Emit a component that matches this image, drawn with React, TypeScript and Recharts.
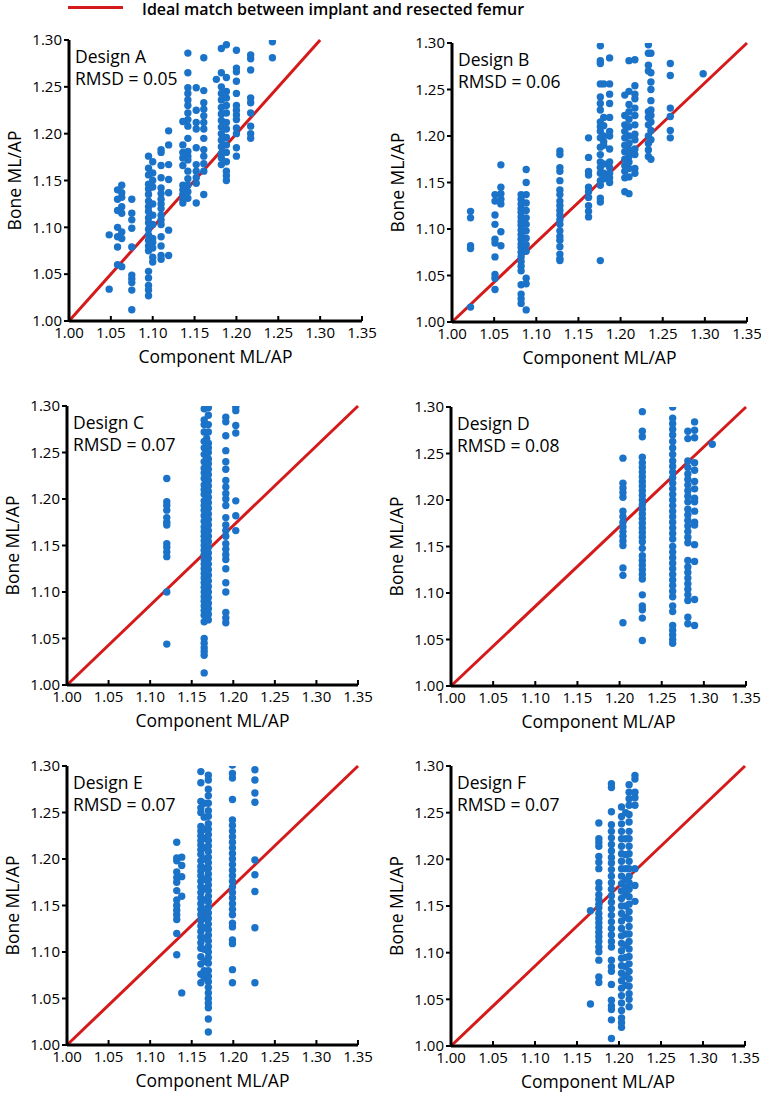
import React from 'react';
import { ScatterChart, Scatter, XAxis, YAxis, ReferenceLine } from 'recharts';

// [component ML/AP, bone ML/AP values at that component size]
type Column = [number, number[]];

const X_TICKS = [1.0, 1.05, 1.1, 1.15, 1.2, 1.25, 1.3, 1.35];
const Y_TICKS = [1.0, 1.05, 1.1, 1.15, 1.2, 1.25, 1.3];

const DESIGN_NAMES = ['Design A', 'Design B', 'Design C', 'Design D', 'Design E', 'Design F'];
const RMSD_VALUES = ['0.05', '0.06', '0.07', '0.08', '0.07', '0.07'];
// end of the red "ideal" line as drawn in each panel (starts at 1.00, 1.00)
const IDEAL_END_X = [1.3, 1.35, 1.35, 1.35, 1.35, 1.35];
const IDEAL_END_Y = [1.3, 1.3, 1.3, 1.3, 1.3, 1.3];

const designA: Column[] = [
  [1.048, [1.092, 1.034]],
  [1.058, [1.14, 1.13, 1.118, 1.1, 1.09, 1.079, 1.06]],
  [1.063, [1.145, 1.137, 1.132, 1.122, 1.115, 1.095, 1.088, 1.058]],
  [1.075, [1.13, 1.115, 1.108, 1.099, 1.079, 1.049, 1.045, 1.041, 1.033, 1.012]],
  [1.095, [1.176, 1.163, 1.156, 1.146, 1.141, 1.135, 1.128, 1.122, 1.117, 1.11, 1.105, 1.098, 1.092, 1.086, 1.08, 1.075, 1.053, 1.046, 1.038, 1.033, 1.027]],
  [1.1, [1.17, 1.158, 1.15, 1.143, 1.125, 1.113, 1.103, 1.088, 1.084, 1.078, 1.068, 1.063]],
  [1.11, [1.183, 1.18, 1.166, 1.153, 1.142, 1.136, 1.13, 1.125, 1.12, 1.113, 1.108, 1.103, 1.09, 1.08, 1.07, 1.066]],
  [1.119, [1.203, 1.188, 1.167, 1.151, 1.137, 1.097, 1.07]],
  [1.136, [1.213, 1.188, 1.18, 1.174, 1.166, 1.145, 1.14, 1.135, 1.13, 1.126]],
  [1.142, [1.286, 1.265, 1.249, 1.243, 1.236, 1.23, 1.222, 1.215, 1.208, 1.195, 1.181, 1.176, 1.172, 1.16, 1.152, 1.145, 1.138, 1.131]],
  [1.152, [1.249, 1.225, 1.212, 1.205, 1.185, 1.167, 1.16, 1.153, 1.147, 1.126]],
  [1.161, [1.281, 1.246, 1.233, 1.226, 1.219, 1.212, 1.205, 1.195, 1.183, 1.176, 1.168, 1.16, 1.135]],
  [1.176, [1.258]],
  [1.182, [1.291, 1.265, 1.25, 1.243, 1.236, 1.228, 1.221, 1.214, 1.207, 1.2, 1.193, 1.186, 1.179, 1.174, 1.167]],
  [1.188, [1.295, 1.26, 1.245, 1.238, 1.23, 1.222, 1.212, 1.205, 1.196, 1.188, 1.18, 1.17, 1.16, 1.155, 1.15]],
  [1.2, [1.289, 1.27, 1.266, 1.256, 1.243, 1.23, 1.225, 1.22, 1.215, 1.206, 1.2, 1.185, 1.176]],
  [1.217, [1.284, 1.28, 1.268, 1.238, 1.233, 1.222, 1.208, 1.2, 1.195]],
  [1.243, [1.298, 1.281]],
];

const designB: Column[] = [
  [1.022, [1.119, 1.112, 1.082, 1.079, 1.016]],
  [1.051, [1.137, 1.13, 1.115, 1.105, 1.089, 1.085, 1.07, 1.051, 1.047, 1.035]],
  [1.058, [1.169, 1.145, 1.138, 1.132, 1.127, 1.097, 1.082]],
  [1.082, [1.137, 1.132, 1.127, 1.122, 1.118, 1.113, 1.108, 1.104, 1.099, 1.094, 1.089, 1.084, 1.08, 1.075, 1.07, 1.065, 1.06, 1.055, 1.04, 1.03, 1.025, 1.02]],
  [1.088, [1.164, 1.15, 1.137, 1.128, 1.12, 1.112, 1.105, 1.098, 1.09, 1.083, 1.076, 1.047, 1.041, 1.013]],
  [1.128, [1.184, 1.18, 1.166, 1.162, 1.152, 1.142, 1.137, 1.13, 1.125, 1.12, 1.115, 1.11, 1.105, 1.098, 1.092, 1.088, 1.081, 1.073, 1.068, 1.066]],
  [1.162, [1.198, 1.177, 1.162, 1.158, 1.145, 1.14, 1.134, 1.125, 1.119, 1.113]],
  [1.176, [1.297, 1.281, 1.278, 1.256, 1.242, 1.235, 1.228, 1.215, 1.21, 1.205, 1.198, 1.188, 1.18, 1.172, 1.166, 1.16, 1.152, 1.147, 1.133, 1.129, 1.066]],
  [1.18, [1.256, 1.22, 1.211, 1.2, 1.194, 1.19, 1.17, 1.16, 1.154]],
  [1.187, [1.284, 1.256, 1.245, 1.235, 1.22, 1.205, 1.2, 1.186, 1.172, 1.166, 1.16, 1.155, 1.15]],
  [1.205, [1.244, 1.222, 1.212, 1.205, 1.198, 1.19, 1.183, 1.175, 1.168, 1.162, 1.155, 1.14]],
  [1.21, [1.281, 1.248, 1.234, 1.226, 1.218, 1.21, 1.2, 1.192, 1.185, 1.178, 1.172, 1.165, 1.156, 1.138]],
  [1.217, [1.282, 1.254, 1.245, 1.24, 1.23, 1.222, 1.212, 1.202, 1.196, 1.186, 1.18, 1.165, 1.16]],
  [1.233, [1.298, 1.289, 1.276, 1.27, 1.226, 1.22, 1.212, 1.2, 1.192, 1.185, 1.178]],
  [1.236, [1.289, 1.268, 1.258, 1.25, 1.238, 1.228, 1.222, 1.215, 1.206, 1.196, 1.175]],
  [1.259, [1.278, 1.265, 1.23, 1.221, 1.206, 1.198]],
  [1.298, [1.267]],
];

const designC: Column[] = [
  [1.12, [1.222, 1.197, 1.193, 1.188, 1.18, 1.175, 1.172, 1.152, 1.148, 1.143, 1.138, 1.1, 1.044]],
  [1.165, [1.297, 1.285, 1.28, 1.272, 1.262, 1.255, 1.248, 1.24, 1.233, 1.228, 1.222, 1.215, 1.21, 1.205, 1.198, 1.193, 1.188, 1.182, 1.176, 1.17, 1.165, 1.16, 1.155, 1.15, 1.145, 1.14, 1.135, 1.13, 1.125, 1.12, 1.115, 1.11, 1.105, 1.1, 1.095, 1.09, 1.085, 1.08, 1.075, 1.068, 1.05, 1.045, 1.04, 1.036, 1.032, 1.013]],
  [1.168, [1.265, 1.245, 1.225, 1.205, 1.185, 1.163, 1.143, 1.122, 1.102, 1.082]],
  [1.17, [1.298, 1.29, 1.28, 1.272, 1.26, 1.255, 1.25, 1.243, 1.238, 1.232, 1.226, 1.22, 1.214, 1.208, 1.202, 1.196, 1.19, 1.184, 1.178, 1.172, 1.166, 1.16, 1.154, 1.148, 1.142, 1.136, 1.13, 1.124, 1.118, 1.112, 1.106, 1.1, 1.094, 1.088, 1.082, 1.076, 1.07]],
  [1.191, [1.288, 1.283, 1.268, 1.252, 1.24, 1.232, 1.22, 1.213, 1.206, 1.2, 1.193, 1.18, 1.172, 1.166, 1.16, 1.152, 1.146, 1.14, 1.135, 1.125, 1.11, 1.1, 1.078, 1.072, 1.067]],
  [1.203, [1.299, 1.295, 1.279, 1.271, 1.198, 1.182, 1.166]],
];

const designD: Column[] = [
  [1.204, [1.245, 1.218, 1.213, 1.208, 1.203, 1.188, 1.182, 1.176, 1.171, 1.166, 1.161, 1.156, 1.151, 1.127, 1.119, 1.068]],
  [1.227, [1.295, 1.274, 1.268, 1.246, 1.24, 1.235, 1.23, 1.225, 1.22, 1.215, 1.21, 1.205, 1.2, 1.195, 1.19, 1.185, 1.18, 1.175, 1.17, 1.165, 1.16, 1.155, 1.148, 1.14, 1.135, 1.13, 1.125, 1.12, 1.115, 1.098, 1.086, 1.082, 1.073, 1.049]],
  [1.263, [1.3, 1.288, 1.282, 1.276, 1.27, 1.263, 1.256, 1.249, 1.242, 1.236, 1.23, 1.224, 1.218, 1.212, 1.206, 1.2, 1.194, 1.188, 1.182, 1.176, 1.17, 1.164, 1.158, 1.15, 1.144, 1.138, 1.132, 1.126, 1.12, 1.114, 1.108, 1.102, 1.096, 1.086, 1.08, 1.065, 1.06, 1.055, 1.05, 1.046]],
  [1.281, [1.274, 1.266, 1.242, 1.235, 1.228, 1.222, 1.216, 1.21, 1.204, 1.198, 1.19, 1.184, 1.178, 1.172, 1.166, 1.16, 1.154, 1.135, 1.128, 1.122, 1.116, 1.11, 1.104, 1.098, 1.092, 1.074, 1.067]],
  [1.289, [1.284, 1.275, 1.267, 1.24, 1.232, 1.22, 1.212, 1.202, 1.198, 1.188, 1.176, 1.173, 1.152, 1.134, 1.093, 1.065]],
  [1.31, [1.26]],
];

const designE: Column[] = [
  [1.132, [1.218, 1.201, 1.198, 1.186, 1.18, 1.175, 1.166, 1.156, 1.15, 1.145, 1.14, 1.135, 1.12, 1.097]],
  [1.138, [1.202, 1.193, 1.181, 1.16, 1.056]],
  [1.161, [1.294, 1.282, 1.262, 1.255, 1.25, 1.235, 1.23, 1.225, 1.22, 1.215, 1.21, 1.205, 1.198, 1.192, 1.187, 1.182, 1.176, 1.17, 1.164, 1.158, 1.152, 1.146, 1.14, 1.134, 1.128, 1.122, 1.116, 1.11, 1.104, 1.095, 1.087, 1.076, 1.067]],
  [1.165, [1.26, 1.245, 1.232, 1.222, 1.212, 1.2, 1.19, 1.178, 1.168, 1.156, 1.146, 1.136, 1.126, 1.115, 1.103, 1.09, 1.08, 1.072]],
  [1.17, [1.29, 1.285, 1.275, 1.268, 1.26, 1.252, 1.246, 1.238, 1.232, 1.226, 1.22, 1.214, 1.208, 1.202, 1.196, 1.19, 1.184, 1.178, 1.172, 1.166, 1.16, 1.154, 1.148, 1.142, 1.136, 1.13, 1.124, 1.118, 1.112, 1.106, 1.1, 1.094, 1.088, 1.08, 1.074, 1.068, 1.062, 1.056, 1.05, 1.045, 1.04, 1.028, 1.014]],
  [1.199, [1.301, 1.292, 1.287, 1.264, 1.242, 1.236, 1.23, 1.224, 1.218, 1.212, 1.206, 1.2, 1.194, 1.188, 1.182, 1.176, 1.17, 1.164, 1.158, 1.152, 1.146, 1.14, 1.131, 1.127, 1.113, 1.109, 1.081, 1.067]],
  [1.226, [1.296, 1.285, 1.271, 1.261, 1.199, 1.183, 1.165, 1.126, 1.067]],
];

const designF: Column[] = [
  [1.166, [1.145, 1.045]],
  [1.176, [1.239, 1.222, 1.218, 1.214, 1.203, 1.197, 1.19, 1.175, 1.169, 1.162, 1.157, 1.152, 1.148, 1.142, 1.137, 1.132, 1.127, 1.122, 1.117, 1.112, 1.106, 1.101, 1.092, 1.074, 1.068]],
  [1.191, [1.281, 1.277, 1.251, 1.237, 1.23, 1.223, 1.216, 1.209, 1.202, 1.196, 1.189, 1.182, 1.175, 1.168, 1.161, 1.154, 1.147, 1.14, 1.133, 1.126, 1.119, 1.112, 1.106, 1.092, 1.085, 1.08, 1.066, 1.049, 1.043, 1.039, 1.028, 1.008]],
  [1.203, [1.256, 1.246, 1.238, 1.23, 1.222, 1.214, 1.206, 1.198, 1.19, 1.182, 1.174, 1.166, 1.158, 1.15, 1.142, 1.134, 1.126, 1.118, 1.11, 1.102, 1.094, 1.086, 1.078, 1.07, 1.062, 1.054, 1.046, 1.038, 1.03, 1.025, 1.02]],
  [1.208, [1.25, 1.222, 1.205, 1.19, 1.178, 1.17, 1.162, 1.15, 1.138, 1.12, 1.108, 1.095, 1.085, 1.075, 1.065]],
  [1.212, [1.28, 1.272, 1.265, 1.258, 1.248, 1.24, 1.23, 1.222, 1.214, 1.206, 1.198, 1.19, 1.182, 1.175, 1.168, 1.16, 1.152, 1.144, 1.136, 1.128, 1.12, 1.112, 1.104, 1.096, 1.088, 1.08, 1.072, 1.064, 1.056, 1.05, 1.042]],
  [1.219, [1.29, 1.286, 1.272, 1.266, 1.258, 1.19, 1.172, 1.155]],
];

const DESIGNS = [designA, designB, designC, designD, designE, designF];

// plot-area boxes on the page (left, top, width, height)
const BOXES = [
  { left: 69, top: 40, w: 293, h: 281 },
  { left: 452, top: 43, w: 295, h: 279 },
  { left: 67, top: 406, w: 291, h: 279 },
  { left: 451, top: 407, w: 295, h: 279 },
  { left: 67, top: 766, w: 291, h: 279 },
  { left: 451, top: 766, w: 294, h: 280 },
];

const FONT = '"Open Sans", sans-serif';
const BLUE = '#1a73c8';
const RED = '#d41a1a';
const YW = 69;
const MT = 20;
const MR = 16;
const XH = 60;

const fmt = (v: number) => v.toFixed(2);

const Dot = (props: any) => <circle cx={props.cx} cy={props.cy} r={3.7} fill={BLUE} />;

const Panel = ({ index }: { index: number }) => {
  const box = BOXES[index];
  const points = DESIGNS[index].flatMap(([x, ys]) => ys.map((y) => ({ x, y })));

  return (
    <div style={{ position: 'absolute', left: box.left - YW, top: box.top - MT }}>
      <ScatterChart
        width={box.w + YW + MR}
        height={box.h + MT + XH}
        margin={{ top: MT, right: MR, bottom: 0, left: 0 }}
      >
        <XAxis
          type="number"
          dataKey="x"
          domain={[1, 1.35]}
          ticks={X_TICKS}
          tickFormatter={fmt}
          allowDataOverflow
          height={XH}
          axisLine={{ stroke: '#000', strokeWidth: 3 }}
          tickLine={{ stroke: '#000', strokeWidth: 2 }}
          tickSize={-5}
          tickMargin={11}
          tick={{ fill: '#000', fontSize: 15, fontFamily: FONT }}
          label={{
            value: 'Component ML/AP',
            position: 'insideBottom',
            offset: 18,
            fill: '#000',
            fontSize: 17.5,
            fontFamily: FONT,
          }}
        />
        <YAxis
          type="number"
          dataKey="y"
          domain={[1, 1.3]}
          ticks={Y_TICKS}
          tickFormatter={fmt}
          allowDataOverflow
          width={YW}
          axisLine={{ stroke: '#000', strokeWidth: 3 }}
          tickLine={{ stroke: '#000', strokeWidth: 2 }}
          tickSize={5}
          tickMargin={2}
          tick={{ fill: '#000', fontSize: 15, fontFamily: FONT }}
          label={{
            value: 'Bone ML/AP',
            angle: -90,
            position: 'insideLeft',
            offset: 15,
            fill: '#000',
            fontSize: 17.5,
            fontFamily: FONT,
            style: { textAnchor: 'middle' },
          }}
        />
        <Scatter data={points} shape={Dot} isAnimationActive={false} />
        <ReferenceLine
          segment={[
            { x: 1, y: 1 },
            { x: IDEAL_END_X[index], y: IDEAL_END_Y[index] },
          ]}
          stroke={RED}
          strokeWidth={3}
        />
      </ScatterChart>
      <div
        style={{
          position: 'absolute',
          left: YW + 6,
          top: MT + 5,
          fontFamily: FONT,
          fontSize: 17.5,
          lineHeight: '22px',
          color: '#000',
          whiteSpace: 'nowrap',
        }}
      >
        <div>{DESIGN_NAMES[index]}</div>
        <div>RMSD = {RMSD_VALUES[index]}</div>
      </div>
    </div>
  );
};

export default function App() {
  return (
    <div style={{ position: 'absolute', left: 0, top: 0, width: 761, height: 1097, background: '#fff' }}>
      <div style={{ position: 'absolute', left: 68, top: 6, width: 55, height: 3, background: RED }} />
      <div
        style={{
          position: 'absolute',
          left: 142,
          top: 0,
          fontFamily: FONT,
          fontSize: 16,
          fontWeight: 600,
          lineHeight: '18px',
          color: '#000',
          whiteSpace: 'nowrap',
        }}
      >
        Ideal match between implant and resected femur
      </div>
      {DESIGNS.map((_, i) => (
        <Panel key={i} index={i} />
      ))}
    </div>
  );
}
